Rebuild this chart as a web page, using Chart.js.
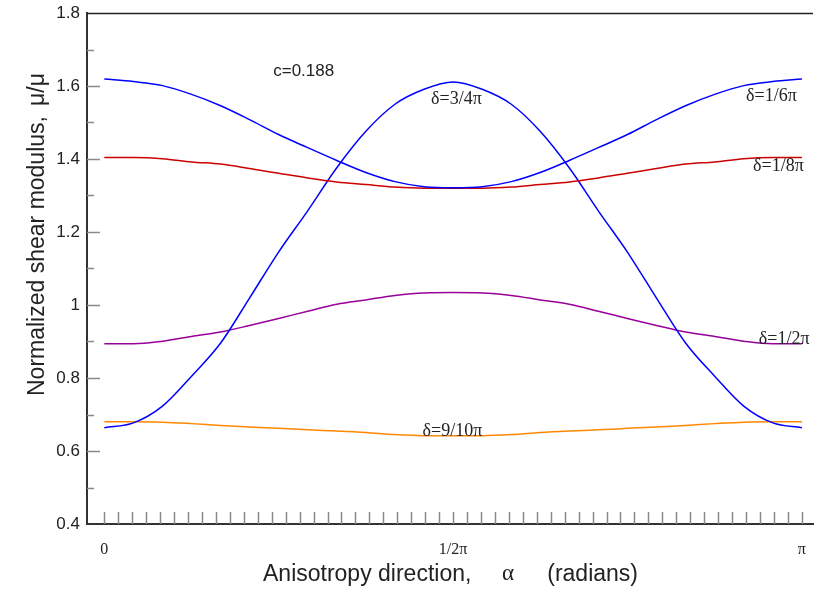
<!DOCTYPE html>
<html>
<head>
<meta charset="utf-8">
<script src="https://cdn.jsdelivr.net/npm/chart.js@4.4.1/dist/chart.umd.min.js"></script>
<style>
  html, body { margin: 0; padding: 0; background: #ffffff; }
  #wrap { width: 814px; height: 590px; position: relative; }
</style>
</head>
<body>
<div id="wrap"><canvas id="chart" width="814" height="590"></canvas></div>
<script>
// Anisotropy direction alpha (radians), 0 .. pi
const alpha = [0.000, 0.131, 0.262, 0.393, 0.524, 0.654, 0.785, 0.916, 1.047, 1.178, 1.309, 1.440,
               1.571, 1.702, 1.833, 1.963, 2.094, 2.225, 2.356, 2.487, 2.618, 2.749, 2.880, 3.011, 3.142];

// Normalized shear modulus for each delta, c = 0.188
const muDelta1_6 = [1.619, 1.612, 1.601, 1.577, 1.546, 1.508, 1.467, 1.431, 1.396, 1.363, 1.338, 1.324,
                    1.321, 1.324, 1.338, 1.363, 1.396, 1.431, 1.467, 1.508, 1.546, 1.577, 1.601, 1.612, 1.619];
const muDelta1_8 = [1.404, 1.404, 1.401, 1.392, 1.386, 1.374, 1.361, 1.348, 1.337, 1.330, 1.323, 1.320,
                    1.320, 1.320, 1.323, 1.330, 1.337, 1.348, 1.361, 1.374, 1.386, 1.392, 1.401, 1.404, 1.404];
const muDelta3_4 = [0.664, 0.677, 0.723, 0.805, 0.896, 1.019, 1.145, 1.258, 1.376, 1.476, 1.550, 1.591,
                    1.611, 1.591, 1.550, 1.476, 1.376, 1.258, 1.145, 1.019, 0.896, 0.805, 0.723, 0.677, 0.664];
const muDelta1_2 = [0.894, 0.894, 0.901, 0.914, 0.926, 0.944, 0.963, 0.983, 1.002, 1.014, 1.026, 1.033,
                    1.034, 1.033, 1.026, 1.014, 1.002, 0.983, 0.963, 0.944, 0.926, 0.914, 0.901, 0.894, 0.894];
const muDelta9_10 = [0.680, 0.680, 0.679, 0.675, 0.670, 0.666, 0.662, 0.658, 0.655, 0.651, 0.645, 0.642,
                     0.642, 0.642, 0.645, 0.651, 0.655, 0.658, 0.662, 0.666, 0.670, 0.675, 0.679, 0.680, 0.680];

// Axis ticks
const yTickValues = [0.4, 0.6, 0.8, 1.0, 1.2, 1.4, 1.6, 1.8];
const yTickLabels = ['0.4', '0.6', '0.8', '1', '1.2', '1.4', '1.6', '1.8'];
const yMinorValues = [0.5, 0.7, 0.9, 1.1, 1.3, 1.5, 1.7];
const xTickValues = [0, Math.PI / 2, Math.PI];
const xTickLabels = ['0', '1/2\u03C0', '\u03C0'];
const xMarkDivisions = 50;

// Curve labels placed in data coordinates
const curveLabels = [
  { text: '\u03B4=3/4\u03C0',  x: 1.586, y: 1.563 },
  { text: '\u03B4=1/6\u03C0',  x: 3.005, y: 1.571 },
  { text: '\u03B4=1/8\u03C0',  x: 3.036, y: 1.381 },
  { text: '\u03B4=1/2\u03C0',  x: 3.062, y: 0.906 },
  { text: '\u03B4=9/10\u03C0', x: 1.568, y: 0.654 }
];
const paramLabel = { text: 'c=0.188', x: 0.898, y: 1.641 };

const series = [
  { name: '\u03B4=1/6\u03C0',  values: muDelta1_6,  color: '#0000ff' },
  { name: '\u03B4=1/8\u03C0',  values: muDelta1_8,  color: '#cc0000' },
  { name: '\u03B4=3/4\u03C0',  values: muDelta3_4,  color: '#0000ff' },
  { name: '\u03B4=1/2\u03C0',  values: muDelta1_2,  color: '#990099' },
  { name: '\u03B4=9/10\u03C0', values: muDelta9_10, color: '#ff8800' }
];

const SANS = '"Liberation Sans", Arial, sans-serif';
const SERIF = '"Liberation Serif", "Times New Roman", serif';

const decorations = {
  id: 'decorations',
  beforeDatasetsDraw(chart) {
    const { ctx, chartArea: a, scales: { x, y } } = chart;
    ctx.save();
    ctx.strokeStyle = '#8a8a8a';
    ctx.lineWidth = 1.5;
    // inward y marks
    yTickValues.slice(1, -1).forEach(v => {
      const py = Math.round(y.getPixelForValue(v)) + 0.5;
      ctx.beginPath(); ctx.moveTo(a.left, py); ctx.lineTo(a.left + 13, py); ctx.stroke();
    });
    yMinorValues.forEach(v => {
      const py = Math.round(y.getPixelForValue(v)) + 0.5;
      ctx.beginPath(); ctx.moveTo(a.left, py); ctx.lineTo(a.left + 7, py); ctx.stroke();
    });
    // inward x marks every pi/50
    for (let k = 0; k <= xMarkDivisions; k++) {
      const px = Math.round(x.getPixelForValue(k * Math.PI / xMarkDivisions)) + 0.5;
      ctx.beginPath(); ctx.moveTo(px, a.bottom); ctx.lineTo(px, a.bottom - 12); ctx.stroke();
    }
    // top frame line
    ctx.strokeStyle = '#222222';
    ctx.lineWidth = 1.5;
    ctx.beginPath(); ctx.moveTo(a.left, a.top + 0.5); ctx.lineTo(a.right, a.top + 0.5); ctx.stroke();
    ctx.restore();
  },
  afterDraw(chart) {
    const { ctx, scales: { x, y } } = chart;
    ctx.save();
    ctx.fillStyle = '#222222';
    ctx.textAlign = 'center';
    ctx.textBaseline = 'middle';
    ctx.font = '18px ' + SERIF;
    curveLabels.forEach(l => ctx.fillText(l.text, x.getPixelForValue(l.x), y.getPixelForValue(l.y)));
    ctx.font = '17px ' + SANS;
    ctx.fillText(paramLabel.text, x.getPixelForValue(paramLabel.x), y.getPixelForValue(paramLabel.y));

    // x axis title
    const ty = 575;
    ctx.font = '23px ' + SANS;
    ctx.textAlign = 'left';
    ctx.fillText('Anisotropy direction,', 263, ty);
    ctx.textAlign = 'right';
    ctx.fillText('(radians)', 638, ty);
    ctx.textAlign = 'center';
    ctx.font = '23px ' + SERIF;
    ctx.fillText('\u03B1', 508, ty - 1);

    // y axis title
    ctx.translate(38, 0);
    ctx.rotate(-Math.PI / 2);
    ctx.font = '23px ' + SANS;
    ctx.textAlign = 'left';
    ctx.fillText('Normalized shear modulus,', -396, 0);
    ctx.fillText('\u03BC/\u03BC', -106, 0);
    ctx.restore();
  }
};

new Chart(document.getElementById('chart'), {
  type: 'line',
  data: {
    datasets: series.map(s => ({
      label: s.name,
      data: alpha.map((a, i) => ({ x: a, y: s.values[i] })),
      borderColor: s.color,
      borderWidth: 1.5,
      pointRadius: 0,
      fill: false,
      cubicInterpolationMode: 'monotone'
    }))
  },
  options: {
    responsive: false,
    animation: false,
    devicePixelRatio: 1,
    layout: { padding: { top: 13, right: 1, left: 0, bottom: 0 } },
    plugins: { legend: { display: false }, tooltip: { enabled: false } },
    scales: {
      x: {
        type: 'linear',
        min: -0.078,
        max: 3.192,
        afterFit(s) { s.height = 66; s.paddingLeft = 0; s.paddingRight = 0; },
        afterBuildTicks(s) { s.ticks = xTickValues.map(v => ({ value: v })); },
        grid: { display: false, drawTicks: false },
        border: { display: true, color: '#333333', width: 2 },
        ticks: {
          autoSkip: false, maxRotation: 0, padding: 16, color: '#222222',
          font: { family: SERIF, size: 16 },
          callback: (v, i) => xTickLabels[i]
        }
      },
      y: {
        min: 0.4,
        max: 1.8,
        afterFit(s) { s.width = 87; s.paddingTop = 0; s.paddingBottom = 0; },
        afterBuildTicks(s) { s.ticks = yTickValues.map(v => ({ value: v })); },
        grid: { display: false, drawTicks: false },
        border: { display: true, color: '#333333', width: 2 },
        ticks: {
          autoSkip: false, padding: 7, color: '#222222',
          font: { family: SANS, size: 17 },
          callback: (v, i) => yTickLabels[i]
        }
      }
    }
  },
  plugins: [decorations]
});
</script>
</body>
</html>
